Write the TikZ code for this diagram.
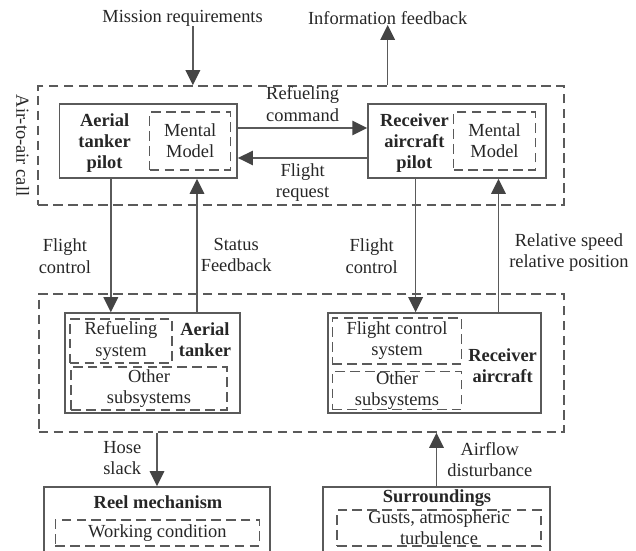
\documentclass[tikz,border=0pt]{standalone}
\usepackage{fontspec}
\setmainfont{Liberation Serif}
\newfontfamily\diagfont{Liberation Serif}
\usetikzlibrary{arrows.meta}
\definecolor{linegray}{HTML}{5A5A5A}
\definecolor{tipgray}{HTML}{444444}
\tikzset{
  wh/.style 2 args={minimum width=#1*0.02cm, minimum height=#2*0.02cm},
  txt/.style={font=\diagfont\fontsize{10.5}{12}\selectfont, align=center, inner sep=0pt, text=black!85},
  lbl/.style={txt, font=\diagfont\fontsize{10.5}{12}\selectfont\bfseries},
  box/.style={draw=linegray, line width=0.9pt, inner sep=0pt},
  dbox/.style={txt, draw=linegray, line width=0.9pt, dash pattern=on 5.5pt off 3pt},
  arr/.style={draw=linegray, line width=0.9pt, -{Triangle[length=0.3cm,width=0.29cm,color=tipgray]}},
}
\begin{document}
\begin{tikzpicture}[x=0.02cm, y=-0.02cm]
\useasboundingbox (0,0) rectangle (636,551);

% dashed groups
\node[dbox, wh={525.5}{119}] (call) at (301,145.5) {};
\node[dbox, wh={525.5}{138}] (sys) at (301.5,363) {};
\node[txt, rotate=-90] (calllab) at (22.6,145.5) {Air-to-air call};

% inputs / outputs on top
\node[txt] (mis) at (182.6,18) {Mission requirements};
\node[txt] (info) at (387.7,18) {Information feedback};

% pilots
\node[box, wh={177.7}{74}] (tp) at (148.3,141) {};
\node[lbl] (tplab) at (104.6,143) {Aerial\\tanker\\pilot};
\node[dbox, wh={81}{58}] (tpmm) at (190.2,141) {Mental\\Model};

\node[box, wh={177.7}{74}] (rp) at (456.9,141) {};
\node[lbl] (rplab) at (414.4,143) {Receiver\\aircraft\\pilot};
\node[dbox, wh={82}{58}] (rpmm) at (494.5,141) {Mental\\Model};

% aircraft
\node[box, wh={175.2}{100}] (ta) at (152.4,363) {};
\node[dbox, wh={102.5}{44}] (tars) at (121,341) {Refueling\\system};
\node[dbox, wh={156}{43}] (taos) at (149,388.5) {Other\\subsystems};
\node[lbl] (talab) at (205,340) {Aerial\\tanker};

\node[box, wh={212.6}{100}] (ra) at (434.5,363) {};
\node[dbox, wh={129.3}{46}] (rafc) at (397,341) {Flight control\\system};
\node[dbox, wh={129.3}{37}] (raos) at (397,390.5) {Other\\subsystems};
\node[lbl] (ralab) at (502.6,366) {Receiver\\aircraft};

% reel and surroundings
\node[box, wh={226}{73}] (rm) at (157,523.5) {};
\node[lbl] (rmlab) at (158,502) {Reel mechanism};
\node[dbox, wh={204}{26}] (rmwc) at (157.4,533) {Working condition};

\node[box, wh={226.5}{73}] (sur) at (436.5,523.5) {};
\node[lbl] (surlab) at (437,498) {Surroundings};
\node[dbox, wh={203.5}{36}] (surg) at (439,528) {Gusts, atmospheric\\turbulence};

% connectors
\draw[arr] ([xshift=0.206cm]mis.south) -- ([xshift=0.206cm]mis.south |- call.north);
\draw[arr] (info.south |- call.north) -- (info.south);

\draw[arr] ([yshift=0.26cm]tp.east) -- node[txt, midway, above=0.12cm] {Refueling\\command} ([yshift=0.26cm]rp.west);
\draw[arr] ([yshift=-0.34cm]rp.west) -- node[txt, midway, below=0.1cm] {Flight\\request} ([yshift=-0.34cm]tp.east);

\draw[arr] ([xshift=-0.75cm]tp.south) -- node[txt, pos=0.58, left=0.38cm] {Flight\\control} ([xshift=-0.75cm]tp.south |- ta.north);
\draw[arr] ([xshift=0.974cm]tp.south |- ta.north) -- node[txt, pos=0.43, right=0.06cm] {Status\\Feedback} ([xshift=0.974cm]tp.south);
\draw[arr] ([xshift=-0.826cm]rp.south) -- node[txt, pos=0.58, left=0.34cm] {Flight\\control} ([xshift=-0.826cm]rp.south |- ra.north);
\draw[arr] ([xshift=0.832cm]rp.south |- ra.north) -- node[txt, pos=0.45, right=0.2cm] {Relative speed\\relative position} ([xshift=0.832cm]rp.south);

\draw[arr] (rm.north |- sys.south) -- node[txt, pos=0.47, left=0.3cm] {Hose\\slack} (rm.north);
\draw[arr] (sur.north) -- node[txt, pos=0.49, right=0.2cm] {Airflow\\disturbance} (sur.north |- sys.south);
\end{tikzpicture}
\end{document}
